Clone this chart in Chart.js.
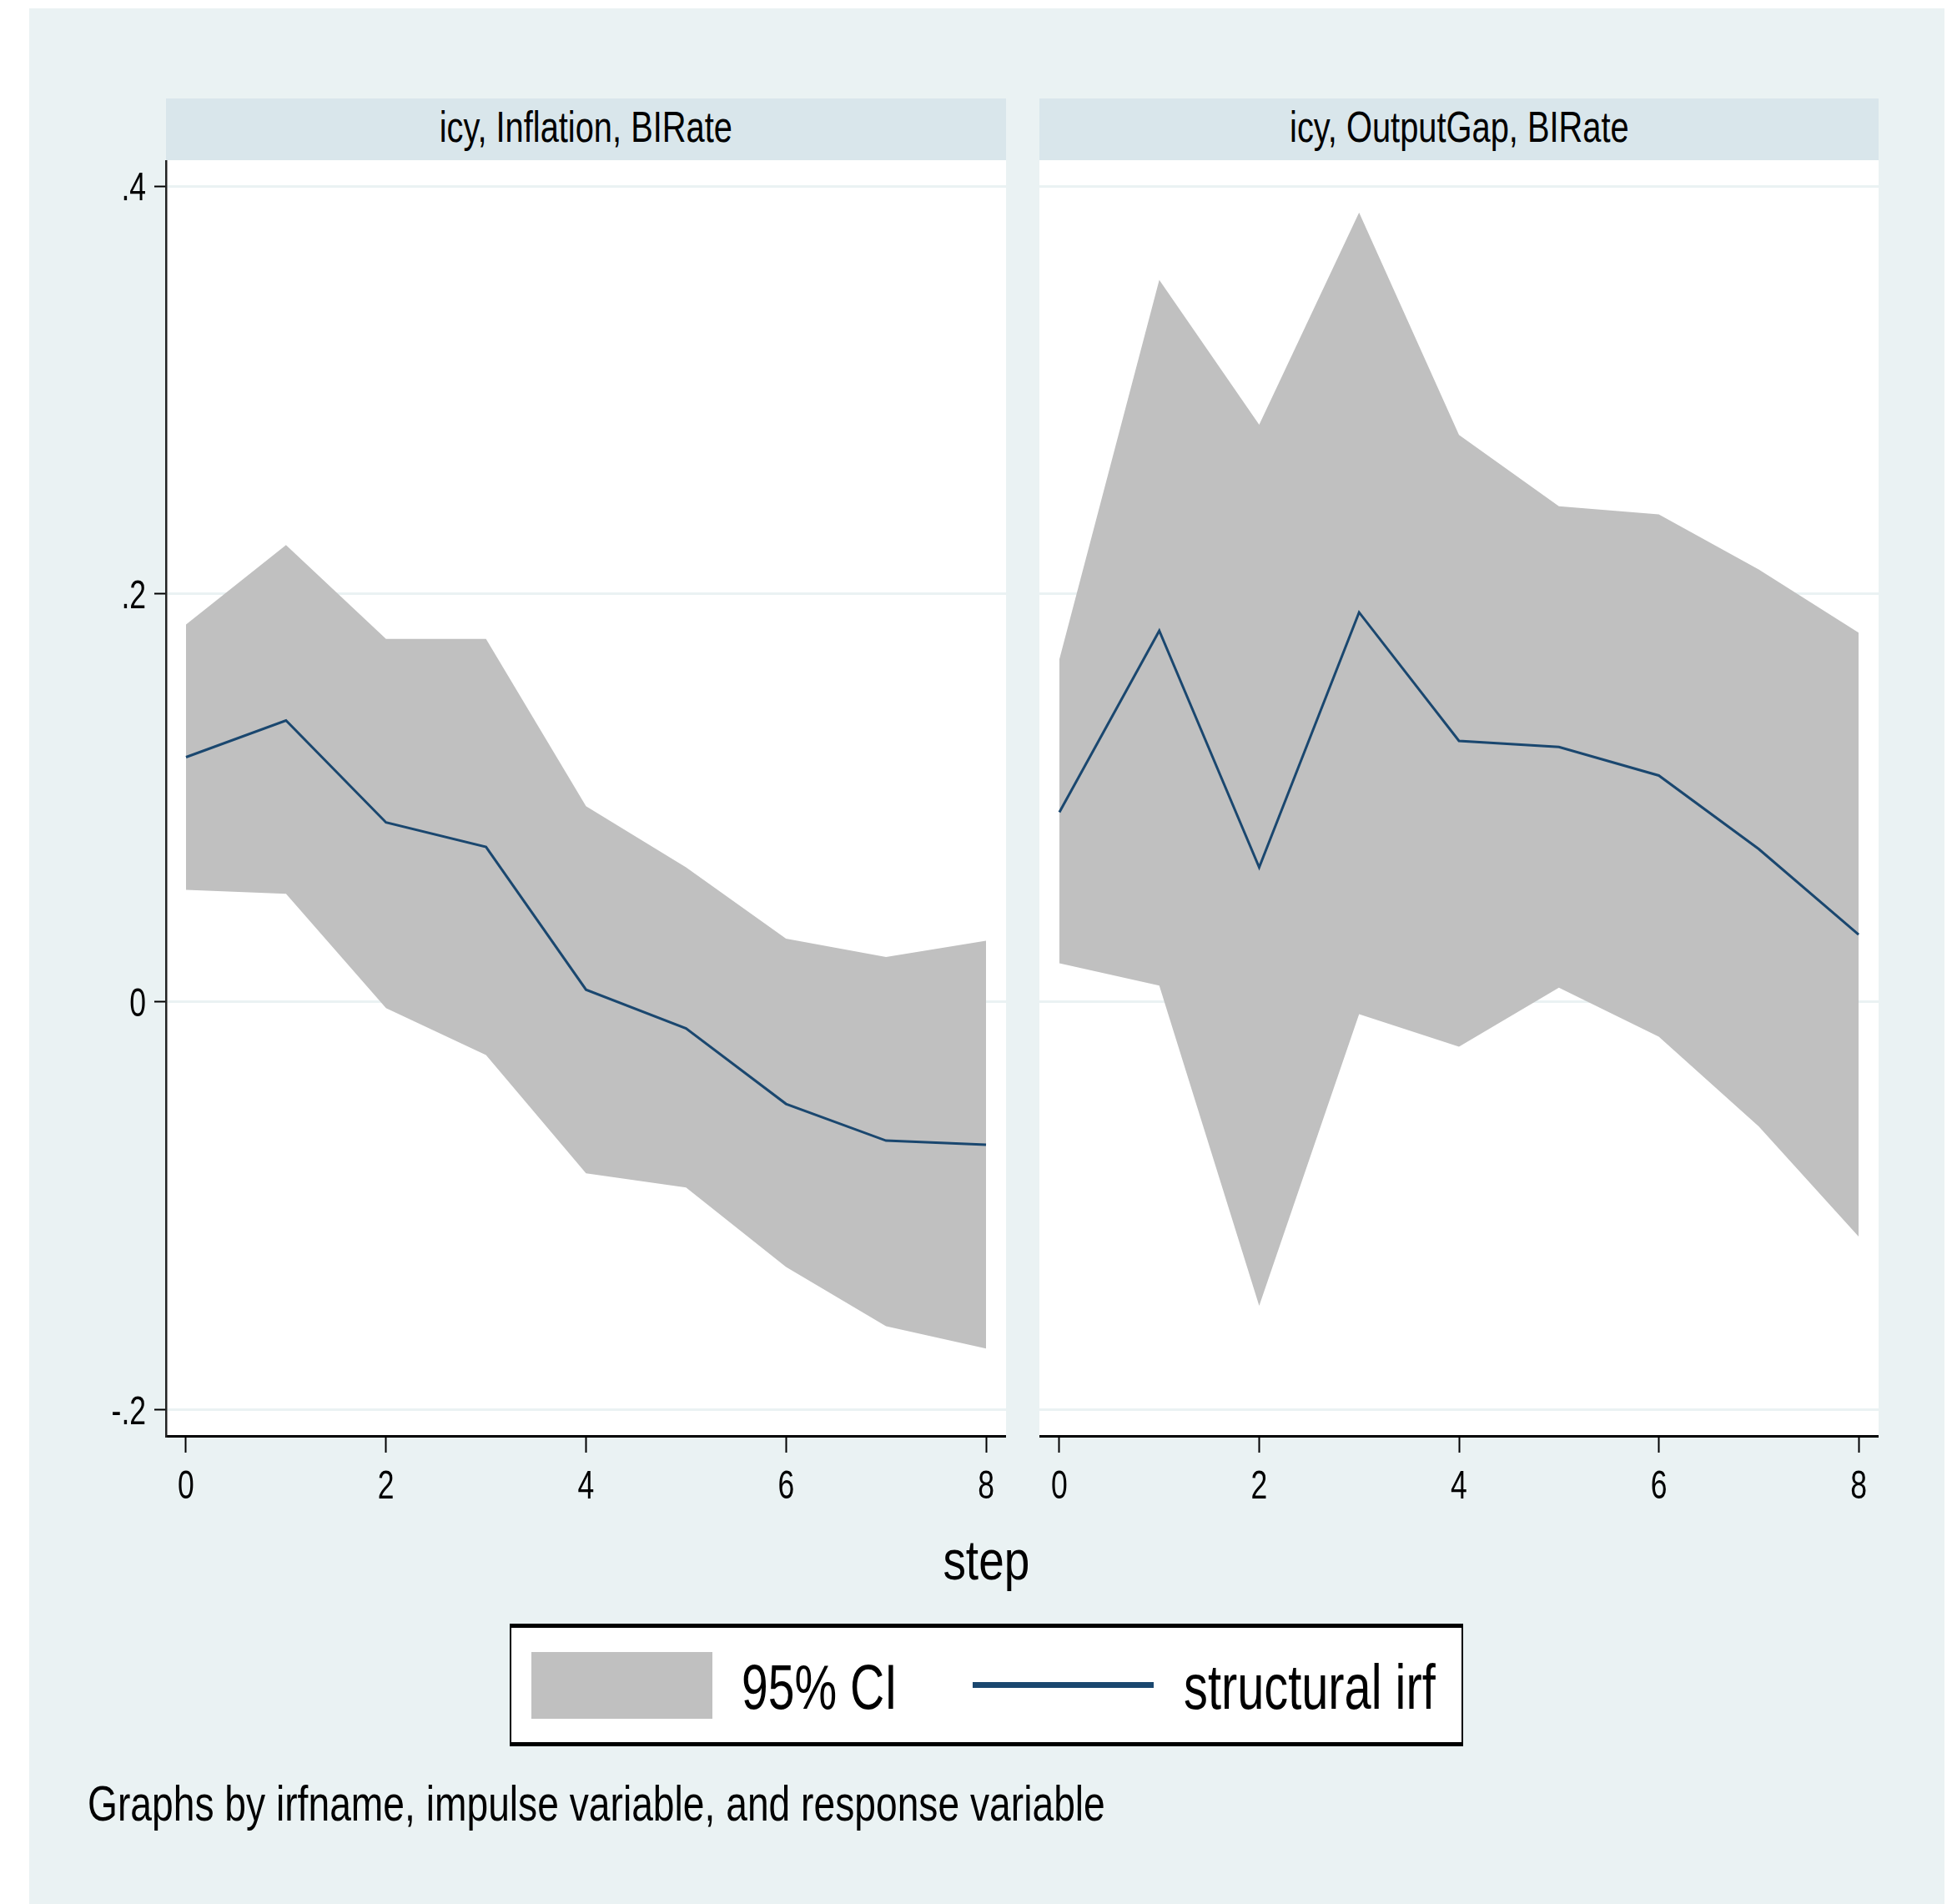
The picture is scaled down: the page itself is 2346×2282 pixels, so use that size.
<!DOCTYPE html>
<html>
<head>
<meta charset="utf-8">
<script src="https://cdn.jsdelivr.net/npm/chart.js@4.4.0/dist/chart.umd.min.js"></script>
<style>
  html, body { margin: 0; padding: 0; background: #ffffff; width: 2346px; height: 2282px; overflow: hidden; }
  body { position: relative; font-family: "Liberation Sans", Arial, sans-serif; color: #000; }
  .abs { position: absolute; }
  #frame { left: 35px; top: 10px; width: 2296px; height: 2272px; background: #EAF2F3; }
  .strip { top: 118px; height: 74px; background: #D9E6EB; }
  .txt { position: absolute; white-space: nowrap; }
  .txt span { display: inline-block; }
  canvas { position: absolute; }
</style>
</head>
<body>
<div id="frame" class="abs"></div>
<div class="abs strip" style="left:199px;width:1007px;"></div>
<div class="abs strip" style="left:1246px;width:1006px;"></div>
<canvas id="panelInflation" width="1146" height="1640" style="left:60px;top:192px;"></canvas>
<canvas id="panelOutputGap" width="1006" height="1640" style="left:1246px;top:192px;"></canvas>
<div class="abs" style="left:611px;top:1946px;width:1143px;height:147px;box-sizing:border-box;background:#fff;border:2px solid #000;border-top-width:5px;border-bottom-width:5px;"></div>
<div class="abs" style="left:637px;top:1980px;width:217px;height:80px;background:#C0C0C0;"></div>
<div class="abs" style="left:1166px;top:2016px;width:217px;height:7px;background:#1A476F;"></div>

<script>
// Impulse-response steps
const steps = [0, 1, 2, 3, 4, 5, 6, 7, 8];

// icy -> Inflation, response BIRate
const inflIrf   = [0.120, 0.138, 0.088, 0.076, 0.006, -0.013, -0.050, -0.068, -0.070];
const inflLower = [0.055, 0.053, -0.003, -0.026, -0.084, -0.091, -0.130, -0.159, -0.170];
const inflUpper = [0.185, 0.224, 0.178, 0.178, 0.096, 0.066, 0.031, 0.022, 0.030];

// icy -> OutputGap, response BIRate
const gapIrf   = [0.093, 0.182, 0.066, 0.191, 0.128, 0.125, 0.111, 0.075, 0.033];
const gapLower = [0.019, 0.008, -0.149, -0.006, -0.022, 0.007, -0.017, -0.061, -0.115];
const gapUpper = [0.168, 0.354, 0.283, 0.387, 0.278, 0.243, 0.239, 0.212, 0.181];

const panelTitles = ["icy, Inflation, BIRate", "icy, OutputGap, BIRate"];
const xTickValues = [0, 2, 4, 6, 8];
const xTickLabels = ["0", "2", "4", "6", "8"];
const yTickValues = [-0.2, 0, 0.2, 0.4];
const yTickLabels = ["-.2", "0", ".2", ".4"];
const legendLabels = ["95% CI", "structural irf"];
const xTitle = "step";
const noteText = "Graphs by irfname, impulse variable, and response variable";

const FONT = '"Liberation Sans", Arial, sans-serif';
const NAVY = '#1A476F';
const CI_GRAY = '#C0C0C0';
const GRID = '#EAF2F3';
const TICK_FONT_SIZE = 48;
const NARROW = 0.74;   // horizontal squeeze giving the condensed face

// Place a line of text so that its baseline lands on `baseline`
function placeText(text, x, baseline, size, align, sx) {
  const d = document.createElement('div');
  d.className = 'txt';
  d.style.fontSize = size + 'px';
  d.style.lineHeight = size + 'px';
  d.style.top = (baseline - 0.8465 * size) + 'px';
  const s = document.createElement('span');
  s.textContent = text;
  s.style.transform = 'scaleX(' + sx + ')';
  if (align === 'center') {
    d.style.left = (x - 1000) + 'px';
    d.style.width = '2000px';
    d.style.textAlign = 'center';
    s.style.transformOrigin = '50% 50%';
  } else {
    d.style.left = x + 'px';
    s.style.transformOrigin = '0 50%';
  }
  d.appendChild(s);
  document.body.appendChild(d);
}

placeText(panelTitles[0], 702.5, 170, 52, 'center', 0.766);
placeText(panelTitles[1], 1749, 170, 52, 'center', 0.766);
placeText(xTitle, 1182, 1893, 67, 'center', 0.82);
placeText(legendLabels[0], 889, 2048, 76, 'left', 0.75);
placeText(legendLabels[1], 1419, 2048, 76, 'left', 0.76);
placeText(noteText, 105, 2183, 60, 'left', 0.77);

// White plot region behind the series
const plotBg = {
  id: 'plotBg',
  beforeDraw(chart) {
    const { ctx, chartArea: a } = chart;
    ctx.save();
    ctx.fillStyle = '#ffffff';
    ctx.fillRect(a.left, a.top, a.right - a.left, a.bottom - a.top);
    ctx.restore();
  }
};

// Condensed tick labels placed at the scales' own tick positions
function drawNarrow(ctx, text, x, y, align) {
  ctx.save();
  ctx.translate(x, y);
  ctx.scale(NARROW, 1);
  ctx.textAlign = align;
  ctx.textBaseline = 'alphabetic';
  ctx.fillText(text, 0, 0);
  ctx.restore();
}
const narrowTicks = {
  id: 'narrowTicks',
  afterDraw(chart) {
    const { ctx, chartArea: a, scales } = chart;
    ctx.save();
    ctx.font = TICK_FONT_SIZE + 'px ' + FONT;
    ctx.fillStyle = '#000';
    const cap = 0.716 * TICK_FONT_SIZE;
    scales.x.ticks.forEach(t => {
      const i = xTickValues.indexOf(t.value);
      if (i < 0) return;
      drawNarrow(ctx, xTickLabels[i], scales.x.getPixelForValue(t.value), a.bottom + 75, 'center');
    });
    if (chart.options.scales.y.ticks.showLabels) {
      scales.y.ticks.forEach(t => {
        const i = yTickValues.findIndex(v => Math.abs(v - t.value) < 1e-9);
        if (i < 0) return;
        drawNarrow(ctx, yTickLabels[i], a.left - 24, scales.y.getPixelForValue(t.value) + cap / 2, 'right');
      });
    }
    ctx.restore();
  }
};

const toPoints = arr => steps.map((s, i) => ({ x: s, y: arr[i] }));

function makePanel(id, irf, lower, upper, showY) {
  const yAxisWidth = showY ? 139 : 0;
  const xAxisHeight = 111;
  const noPad = s => { s.paddingTop = 0; s.paddingBottom = 0; s.paddingLeft = 0; s.paddingRight = 0; };
  return new Chart(document.getElementById(id), {
    type: 'line',
    data: {
      datasets: [
        { label: legendLabels[1], data: toPoints(irf), borderColor: NAVY, borderWidth: 3,
          pointRadius: 0, fill: false, tension: 0, borderJoinStyle: 'miter' },
        { label: 'upper', data: toPoints(upper), borderColor: 'rgba(0,0,0,0)', borderWidth: 0,
          pointRadius: 0, backgroundColor: CI_GRAY, fill: '+1', tension: 0 },
        { label: 'lower', data: toPoints(lower), borderColor: 'rgba(0,0,0,0)', borderWidth: 0,
          pointRadius: 0, fill: false, tension: 0 }
      ]
    },
    options: {
      responsive: false,
      animation: false,
      devicePixelRatio: 1,
      events: [],
      layout: { padding: 0 },
      plugins: { legend: { display: false }, tooltip: { enabled: false } },
      scales: {
        x: {
          type: 'linear', min: -0.2, max: 8.2,
          afterBuildTicks: s => { s.ticks = xTickValues.map(v => ({ value: v })); },
          afterFit: s => { s.height = xAxisHeight; noPad(s); },
          grid: { drawOnChartArea: false, drawTicks: true, tickLength: 20, tickWidth: 2, tickColor: '#000' },
          border: { display: true, color: '#000', width: 3 },
          ticks: { display: false, autoSkip: false }
        },
        y: {
          type: 'linear', min: -0.2128, max: 0.4127,
          afterBuildTicks: s => { s.ticks = yTickValues.map(v => ({ value: v })); },
          afterFit: s => { s.width = yAxisWidth; noPad(s); },
          grid: { color: GRID, lineWidth: 3, drawTicks: showY, tickLength: 14, tickWidth: 2, tickColor: '#000' },
          border: { display: showY, color: '#222', width: 2.5 },
          ticks: { display: false, showLabels: showY }
        }
      }
    },
    plugins: [plotBg, narrowTicks]
  });
}

makePanel('panelInflation', inflIrf, inflLower, inflUpper, true);
makePanel('panelOutputGap', gapIrf, gapLower, gapUpper, false);
</script>
</body>
</html>
